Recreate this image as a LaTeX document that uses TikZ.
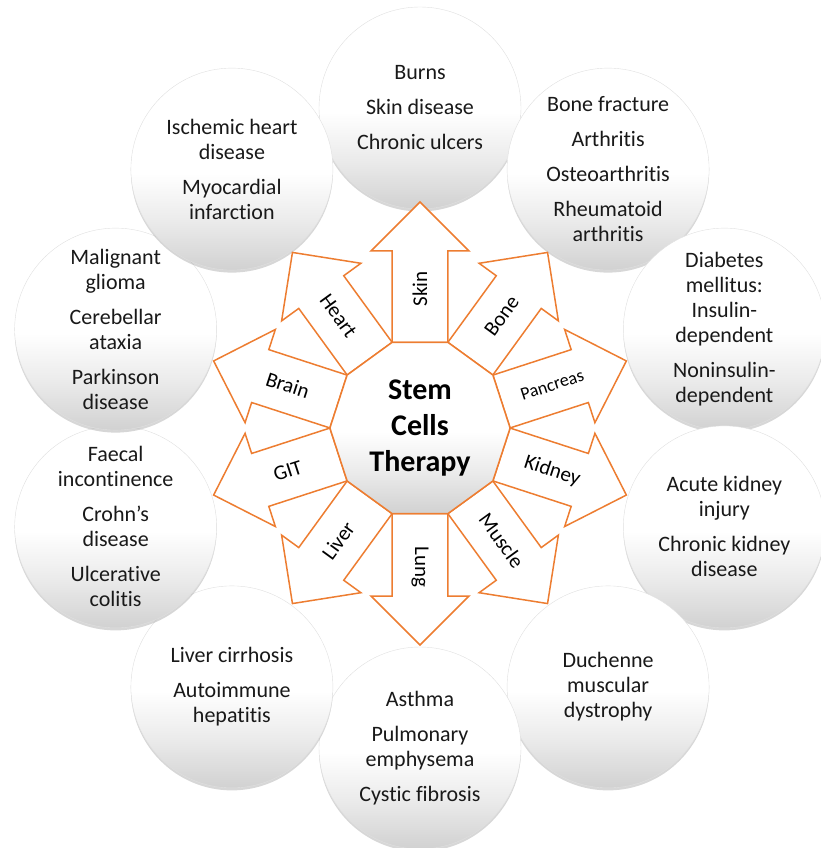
\documentclass[tikz,border=0pt]{standalone}
\usepackage{fontspec}
\setmainfont{Carlito}[Ligatures=NoCommon]
\usetikzlibrary{shapes.geometric,shadows}
\definecolor{organorange}{RGB}{237,125,49}
\pgfdeclareverticalshading{bubble}{100bp}{color(0bp)=(black!18); color(25bp)=(black!18); color(37bp)=(black!8); color(49bp)=(white); color(100bp)=(white)}
\newcommand\smallorgan{\fontsize{18}{20}\selectfont}
\tikzset{
disease/.style={shape=circle,minimum size=202pt,inner sep=0pt,draw=black!12,shading=bubble,
  drop shadow={shadow xshift=0pt,shadow yshift=-2.5pt,fill=black!35,opacity=.45},
  align=center,text=black!90,font=\fontsize{22}{25}\selectfont},
hub/.style={regular polygon,regular polygon sides=10,minimum size=180.2pt,inner sep=0pt,
  draw=organorange,line width=1.5pt,shading=bubble,align=center,font=\bfseries\fontsize{30}{36}\selectfont},
organ/.style={draw=organorange,line width=1.5pt,fill=white,line join=miter},
organlabel/.style={inner sep=0pt,font=\fontsize{21}{24}\selectfont}
}

\begin{document}
\begin{tikzpicture}[x=1pt,y=1pt]
\useasboundingbox (-420,-420) rectangle (401,428);
\foreach \ang/\ill [count=\i] in {
  90/{Burns\\[10pt]Skin disease\\[10pt]Chronic ulcers},
  54/{Bone fracture\\[10pt]Arthritis\\[10pt]Osteoarthritis\\[10pt]Rheumatoid\\arthritis},
  18/{Diabetes\\mellitus:\\Insulin-\\dependent\\[10pt]Noninsulin-\\dependent},
  -18/{Acute kidney\\injury\\[10pt]Chronic kidney\\disease},
  -54/{Duchenne\\muscular\\dystrophy},
  -90/{Asthma\\[10pt]Pulmonary\\emphysema\\[10pt]Cystic fibrosis},
  234/{Liver cirrhosis\\[10pt]Autoimmune\\hepatitis},
  198/{Faecal\\incontinence\\[10pt]Crohn’s\\disease\\[10pt]Ulcerative\\colitis},
  162/{Malignant\\glioma\\[10pt]Cerebellar\\ataxia\\[10pt]Parkinson\\disease},
  126/{Ischemic heart\\disease\\[10pt]Myocardial\\infarction}}
  \node[disease] (disease-\i) at (\ang:320) {\ill};

\foreach \ang/\len/\rot/\organ [count=\i] in {
  90/177/90/Skin, 54/168/54/Bone, 18/168/18/{\smallorgan Pancreas}, -18/168/-18/Kidney,
  -54/168/-54/Muscle, -90/168/-90/Lung, 234/168/54/Liver, 198/168/18/GIT,
  162/168/-18/Brain, 126/168/-54/Heart}
{
  \draw[organ,rotate=\ang] (85.7,-27.8) -- (\len,-27.8) -- (\len,-49) -- ({\len+49},0)
    -- (\len,49) -- (\len,27.8) -- (85.7,27.8) -- cycle;
  \node[organlabel,rotate=\rot] (organ-\i) at (\ang:139) {\organ};
}

\node[hub] (hub) at (0,0) {Stem\\Cells\\Therapy};
\end{tikzpicture}
\end{document}
